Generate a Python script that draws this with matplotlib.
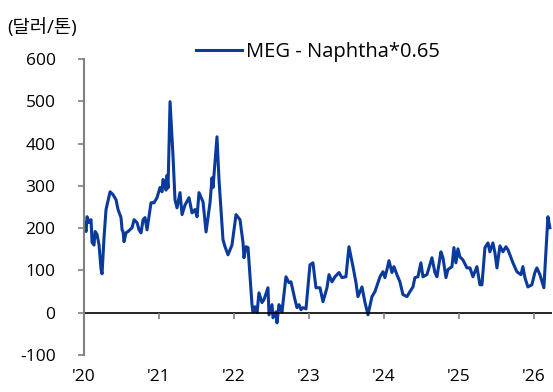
import matplotlib.pyplot as plt

plt.rcParams['font.family'] = ['Open Sans', 'Noto Sans CJK KR', 'DejaVu Sans']
plt.rcParams['axes.unicode_minus'] = False

# 주간 스프레드 (연도 소수 표기, 달러/톤)
years = [
    2020.000, 2020.027, 2020.040, 2020.067, 2020.093, 2020.107, 2020.133, 2020.147,
    2020.173, 2020.200, 2020.227, 2020.240, 2020.267, 2020.293, 2020.347, 2020.387,
    2020.427, 2020.453, 2020.493, 2020.507, 2020.520, 2020.533, 2020.560, 2020.587,
    2020.640, 2020.667, 2020.707, 2020.733, 2020.760, 2020.787, 2020.813, 2020.840,
    2020.893, 2020.933, 2020.973, 2021.013, 2021.040, 2021.053, 2021.067, 2021.093,
    2021.107, 2021.120, 2021.147, 2021.187, 2021.213, 2021.240, 2021.280, 2021.307,
    2021.347, 2021.400, 2021.440, 2021.480, 2021.507, 2021.533, 2021.587, 2021.627,
    2021.680, 2021.707, 2021.720, 2021.773, 2021.800, 2021.853, 2021.880, 2021.920,
    2021.973, 2022.027, 2022.080, 2022.120, 2022.133, 2022.160, 2022.187, 2022.240,
    2022.253, 2022.280, 2022.307, 2022.333, 2022.373, 2022.400, 2022.453, 2022.467,
    2022.507, 2022.520, 2022.560, 2022.573, 2022.600, 2022.613, 2022.640, 2022.693,
    2022.733, 2022.760, 2022.813, 2022.840, 2022.867, 2022.893, 2022.920, 2022.960,
    2023.013, 2023.053, 2023.093, 2023.147, 2023.187, 2023.240, 2023.267, 2023.307,
    2023.347, 2023.400, 2023.440, 2023.493, 2023.533, 2023.587, 2023.627, 2023.653,
    2023.707, 2023.747, 2023.787, 2023.840, 2023.880, 2023.947, 2023.987, 2024.013,
    2024.040, 2024.067, 2024.107, 2024.133, 2024.173, 2024.213, 2024.253, 2024.307,
    2024.347, 2024.387, 2024.413, 2024.453, 2024.493, 2024.520, 2024.573, 2024.640,
    2024.680, 2024.707, 2024.760, 2024.787, 2024.827, 2024.853, 2024.907, 2024.933,
    2024.960, 2024.987, 2025.013, 2025.053, 2025.107, 2025.147, 2025.187, 2025.240,
    2025.280, 2025.307, 2025.347, 2025.387, 2025.413, 2025.453, 2025.480, 2025.507,
    2025.547, 2025.587, 2025.627, 2025.653, 2025.680, 2025.720, 2025.773, 2025.827,
    2025.853, 2025.880, 2025.920, 2025.973, 2026.013, 2026.040, 2026.080, 2026.133,
    2026.187, 2026.213,
]
spread = [
    213, 192, 227, 213, 220, 166, 160, 192,
    185, 160, 102, 92, 180, 244, 286, 279,
    267, 244, 225, 196, 192, 168, 189, 192,
    201, 220, 213, 196, 189, 220, 225, 196,
    260, 260, 272, 296, 286, 315, 310, 290,
    325, 295, 499, 369, 267, 248, 284, 232,
    255, 272, 236, 244, 227, 284, 262, 191,
    260, 319, 296, 416, 314, 173, 156, 137,
    160, 232, 220, 166, 130, 156, 154, 19,
    2, 14, 0, 47, 24, 31, 59, -5,
    19, -12, 2, -24, 19, 14, 2, 85,
    71, 73, 31, 12, 19, 7, 12, 9,
    113, 118, 59, 59, 26, 59, 90, 73,
    85, 95, 83, 85, 156, 109, 71, 38,
    61, 24, -5, 38, 50, 85, 97, 83,
    102, 123, 95, 109, 90, 73, 43, 38,
    50, 61, 83, 85, 118, 85, 90, 130,
    95, 85, 144, 130, 83, 102, 109, 154,
    118, 151, 132, 125, 106, 106, 85, 109,
    66, 66, 154, 165, 144, 165, 142, 106,
    158, 144, 156, 149, 137, 118, 97, 90,
    109, 83, 61, 66, 95, 106, 90, 59,
    227, 201,
]

tick_years = [2020, 2021, 2022, 2023, 2024, 2025, 2026]
tick_labels = ["'20", "'21", "'22", "'23", "'24", "'25", "'26"]

fig = plt.figure(figsize=(5.53, 3.92), dpi=100)
ax = fig.add_axes([0.152, 0.0944, 0.846, 0.7551])

ax.plot(years, spread, color='#0a3a9c', lw=2.2, label='MEG - Naphtha*0.65')
ax.axhline(0, color='black', lw=1.2)
ax.vlines(tick_years, -14, 0, color='#808080', lw=1.2)

ax.set_xlim(2020, 2026.24)
ax.set_ylim(-100, 600)
ax.set_yticks(range(-100, 601, 100))
ax.set_xticks(tick_years)
ax.set_xticklabels(tick_labels)

for side in ['top', 'right', 'bottom']:
    ax.spines[side].set_visible(False)
ax.spines['left'].set_color('#808080')
ax.spines['left'].set_linewidth(1.5)

ax.tick_params(axis='y', length=4.5, width=1.2, color='#808080', pad=16,
               labelsize=12.5, labelcolor='black')
ax.tick_params(axis='x', length=0, pad=10, labelsize=12.5)

ax.legend(loc='upper left', bbox_to_anchor=(0.2, 1.12), frameon=False,
          fontsize=14.5, handlelength=2.3, handletextpad=0.2)

fig.text(0.014, 0.93, '(달러/톤)', fontsize=13.5, va='center', ha='left')

fig.savefig('out.png', dpi=100)
